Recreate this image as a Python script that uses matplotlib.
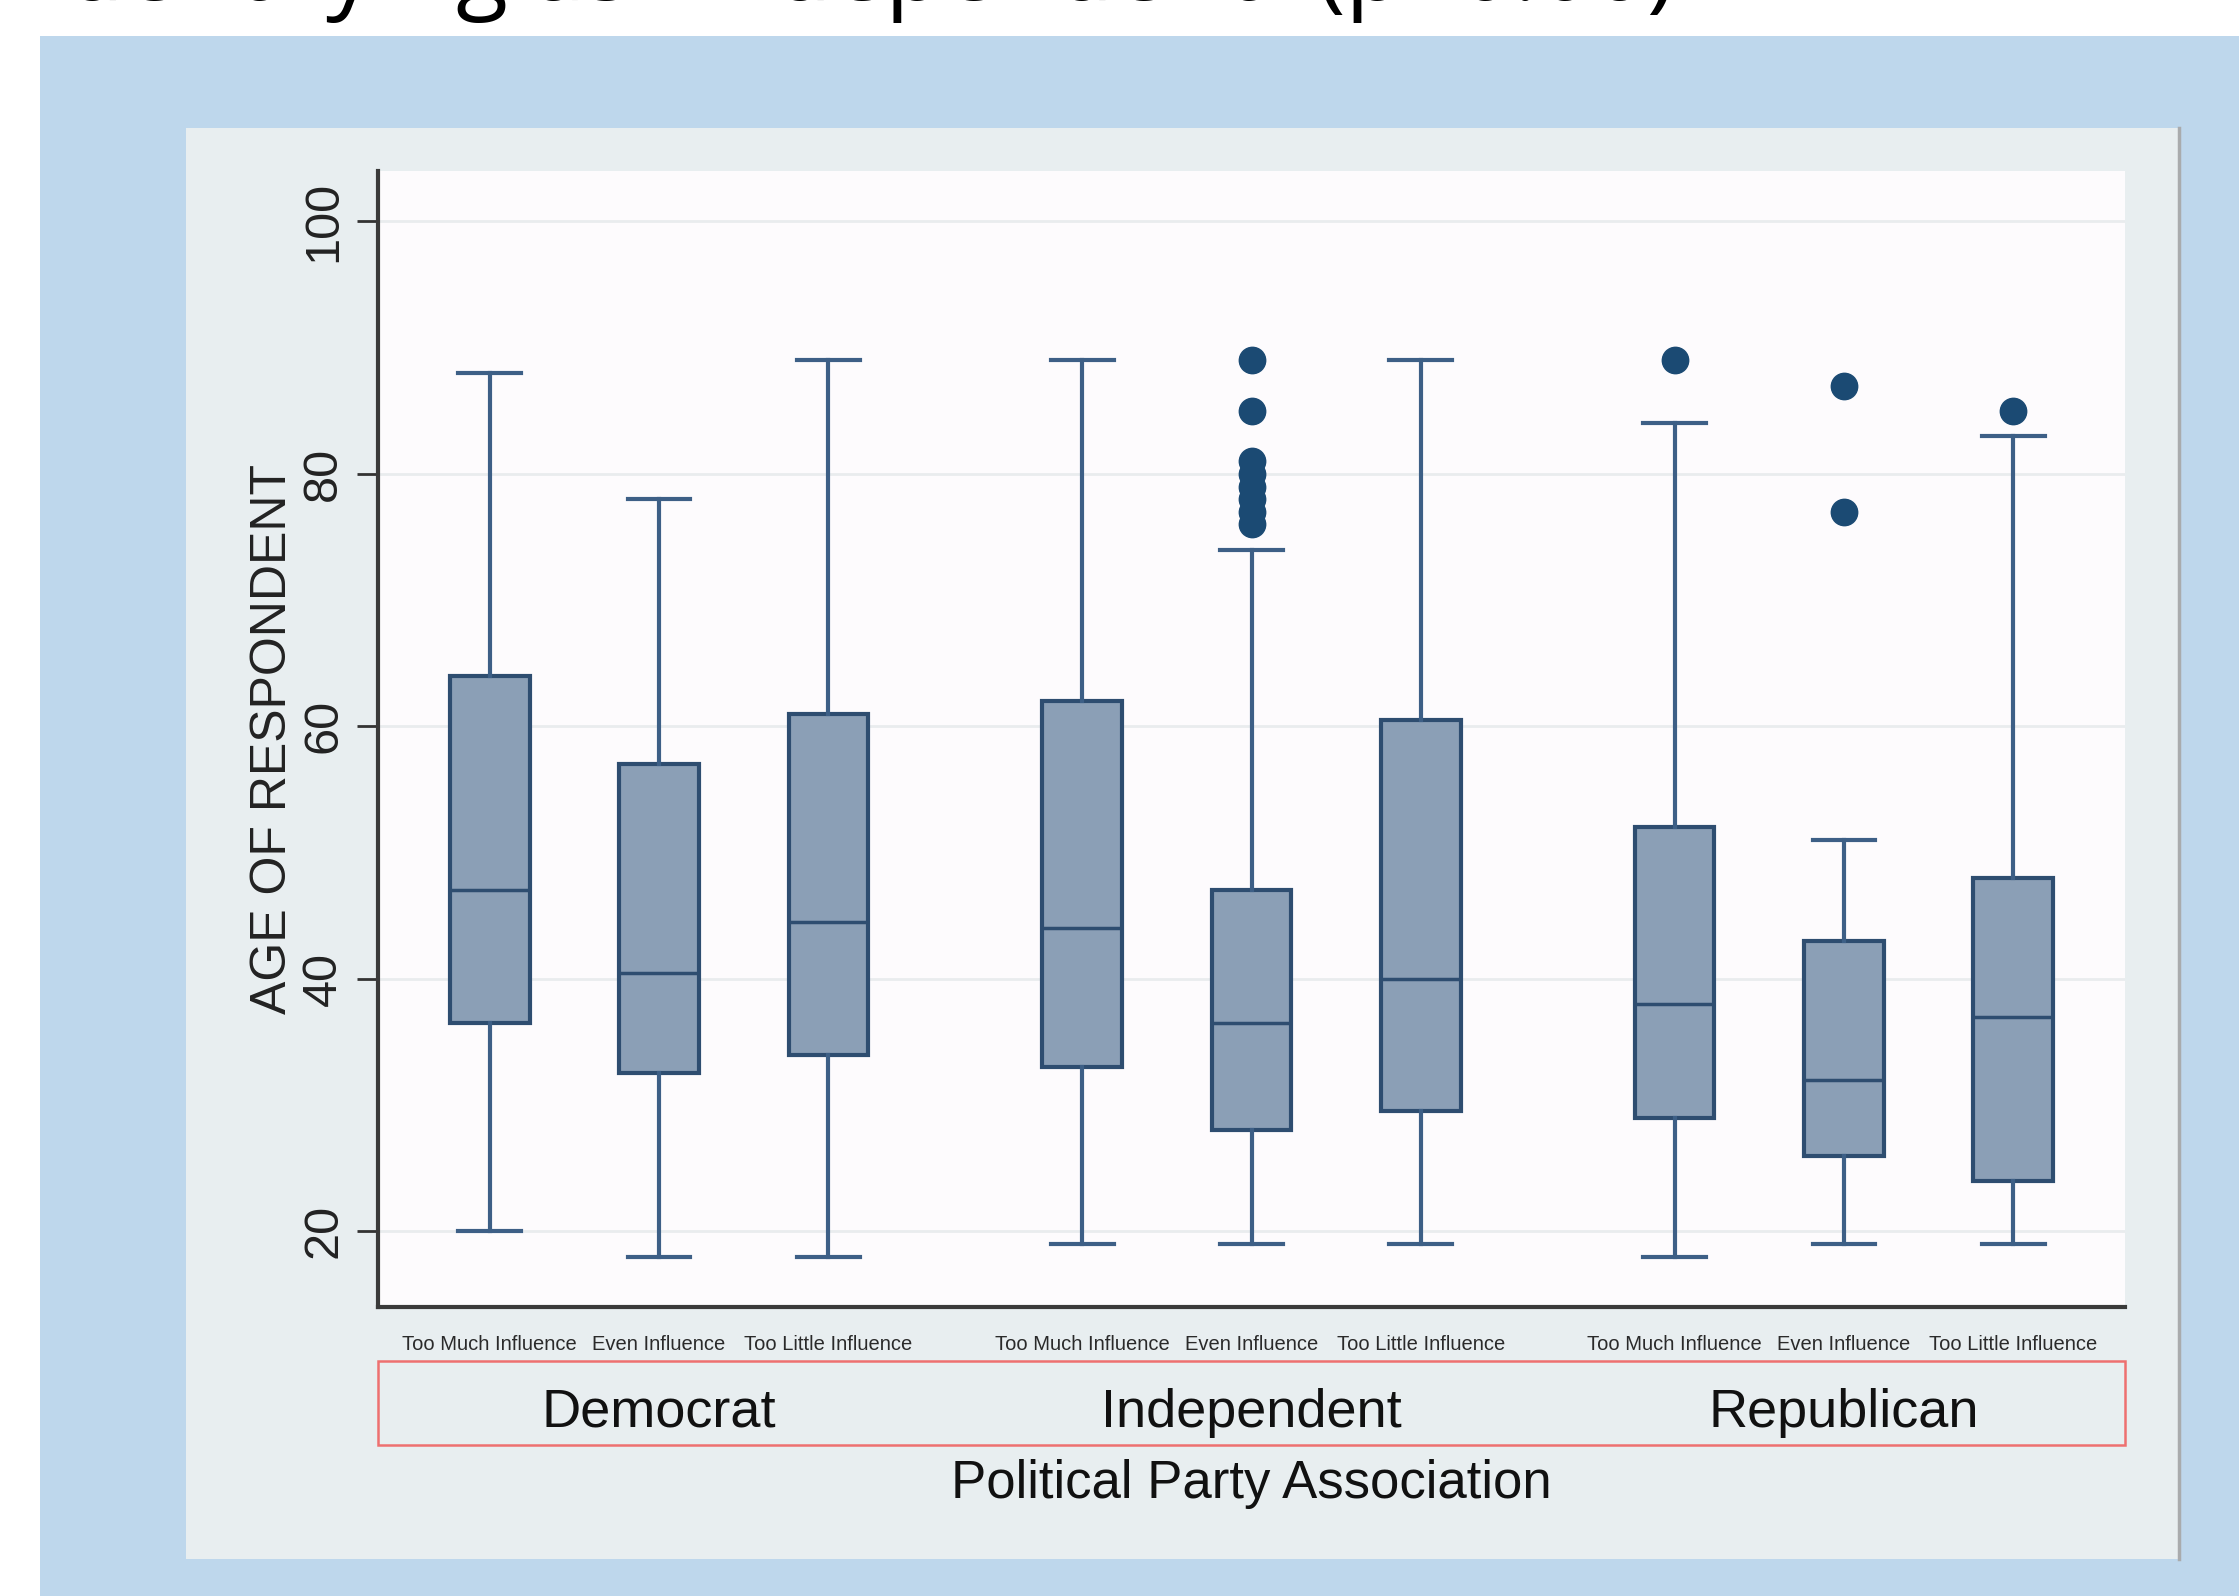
import matplotlib
matplotlib.use("Agg")
import matplotlib.pyplot as plt
from matplotlib.patches import Rectangle
from matplotlib.lines import Line2D

# ---------------- data ----------------
parties = ["Democrat", "Independent", "Republican"]
influence = ["Too Much Influence", "Even Influence", "Too Little Influence"]

whislo = [20, 18, 18, 19, 19, 19, 18, 19, 19]
q1 = [36.5, 32.5, 34, 33, 28, 29.5, 29, 26, 24]
med = [47, 40.5, 44.5, 44, 36.5, 40, 38, 32, 37]
q3 = [64, 57, 61, 62, 47, 60.5, 52, 43, 48]
whishi = [88, 78, 89, 89, 74, 89, 84, 51, 83]
fliers = [[], [], [], [], [89, 85, 81, 80, 79, 78, 77, 76], [], [89], [87, 77], [85]]

yticks = [20, 40, 60, 80, 100]
title_text = "identifying as \u201cIndependent\u201d (p=0.00)"
ylabel_text = "AGE OF RESPONDENT"
xlabel_text = "Political Party Association"

# ---------------- layout ----------------
W, H = 2239, 1596
fig = plt.figure(figsize=(W / 100, H / 100), dpi=100)
fig.patch.set_facecolor("white")

def fx(px):
    return px / W

def fy(py):
    return 1 - py / H

# slide blue panel
fig.patches.append(Rectangle((fx(40), 0), 1 - fx(40), fy(36), transform=fig.transFigure,
                             facecolor="#bed7ec", edgecolor="none", zorder=-3))
# gray chart panel
fig.patches.append(Rectangle((fx(186), fy(1559)), fx(2179) - fx(186), fy(128) - fy(1559),
                             transform=fig.transFigure, facecolor="#e8eef0",
                             edgecolor="none", zorder=-2))
fig.lines.append(Line2D([fx(2179), fx(2179)], [fy(1559), fy(128)], transform=fig.transFigure,
                        color="#a9abad", lw=2.5, zorder=-1))

# title (cut off at the top, as in the slide screenshot)
t = fig.text(fx(42), fy(0), title_text, fontsize=50, family=["Open Sans", "DejaVu Sans"],
             color="black", ha="left", va="baseline")
fig.canvas.draw()
bb = t.get_window_extent()
t.set_fontsize(50 * 1635 / bb.width)

ax = fig.add_axes([fx(378), fy(1307), fx(2125) - fx(378), fy(171) - fy(1307)])
ax.set_zorder(5)
ax.set_facecolor("#fdfbfd")

positions = []
for g in range(len(parties)):
    for i in range(len(influence)):
        positions.append(1 + g * 3.5 + i)

stats = []
for k in range(len(positions)):
    stats.append(dict(whislo=whislo[k], q1=q1[k], med=med[k], q3=q3[k],
                      whishi=whishi[k], fliers=fliers[k]))

edge = "#2e4d70"
ax.bxp(stats, positions=positions, widths=0.47, patch_artist=True, showfliers=True,
       boxprops=dict(facecolor="#8b9fb6", edgecolor=edge, linewidth=3),
       medianprops=dict(color=edge, linewidth=2.5),
       whiskerprops=dict(color="#3d5f86", linewidth=3),
       capprops=dict(color="#3d5f86", linewidth=3),
       capwidths=0.37,
       flierprops=dict(marker="o", markerfacecolor="#1b4a73", markeredgecolor="#1b4a73",
                       markersize=19),
       zorder=3)

ax.set_xlim(0.34, 10.66)
ax.set_ylim(14, 104)
ax.set_yticks(yticks)
ax.set_yticklabels([str(v) for v in yticks], rotation=90, va="center",
                   fontsize=35, family=["Liberation Sans", "DejaVu Sans"], color="#222222")
ax.tick_params(axis="y", length=15, width=2, color="#333333", pad=8)
ax.grid(axis="y", color="#e9ecee", lw=2)
ax.set_axisbelow(True)

ax.set_xticks(positions)
ax.set_xticklabels(influence * len(parties), fontsize=14.5,
                   family=["Liberation Sans", "DejaVu Sans"], color="#2a2a2a")
ax.tick_params(axis="x", length=0, pad=20)

for s in ["top", "right"]:
    ax.spines[s].set_visible(False)
for s in ["left", "bottom"]:
    ax.spines[s].set_color("#3a3a3a")
    ax.spines[s].set_linewidth(3)

ax.set_ylabel(ylabel_text, fontsize=36, family=["Liberation Sans", "DejaVu Sans"],
              color="#222222", labelpad=4)

# group strip with red border
ax.add_patch(Rectangle((0, -0.1215), 1, 0.074, transform=ax.transAxes, facecolor="none",
                       edgecolor="#ee7070", lw=1.8, clip_on=False))
for g, p in enumerate(parties):
    xc = sum(positions[g * 3:(g + 1) * 3]) / 3
    ax.text(xc, -0.093, p, transform=ax.get_xaxis_transform(), ha="center", va="center",
            fontsize=39, family=["Liberation Sans", "DejaVu Sans"], color="#111111")
ax.text(0.5, -0.156, xlabel_text, transform=ax.transAxes, ha="center", va="center",
        fontsize=38, family=["Liberation Sans", "DejaVu Sans"], color="#111111")

fig.savefig("out.png", dpi=100)
